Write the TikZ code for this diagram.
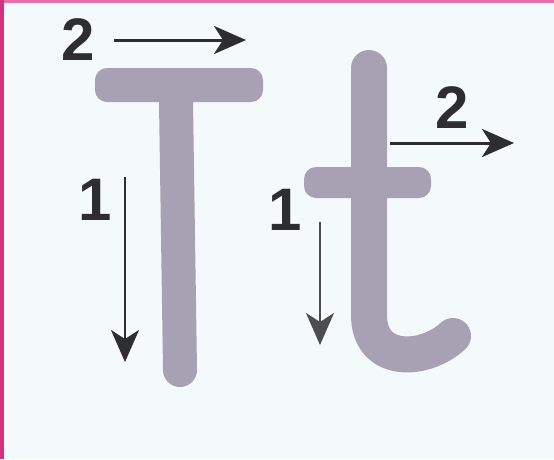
\documentclass[tikz,border=0pt]{standalone}
\usepackage{fontspec}
\setmainfont{Liberation Sans}
\usetikzlibrary{arrows.meta}
\definecolor{bgc}{HTML}{F4F9FB}
\definecolor{pinkA}{HTML}{D6307F}
\definecolor{pinkB}{HTML}{E870A8}
\definecolor{strokec}{HTML}{A8A1B3}
\definecolor{inkc}{HTML}{2E2E32}
\tikzset{
  digit/.style={inner sep=0pt, text=inkc, font=\bfseries\fontsize{60}{60}\selectfont},
  letterstroke/.style={draw=strokec, line cap=round, line join=round},
  barshape/.style={fill=strokec, rounded corners=12pt},
  dirarrow/.style={draw=inkc, line width=3pt, -{Stealth[length=32pt,width=28pt,inset=9pt]}},
}
\begin{document}
\begin{tikzpicture}[x=1pt,y=-1pt]
\useasboundingbox (0,0) rectangle (554,459);
\fill[bgc] (0,0) rectangle (554,459);
\fill[pinkB] (0,0) rectangle (554,2.5);
\fill[pinkA] (0,0) rectangle (3.5,459);
% letter T
\fill[barshape] (95,68) rectangle (263,102);
\draw[letterstroke, line width=34pt] (176,102) -- (180,370);
% letter t
\draw[letterstroke, line width=36pt] (369,68) -- (369,315) .. controls (369,365) and (425,362) .. (453,336);
\fill[barshape] (304,167) rectangle (431,198);
% digits
\node[digit] (n2a) at (78.5,39.5) {2};
\node[digit] (n2b) at (452,108) {2};
\node[digit] (n1a) at (95,200) {1};
\node[digit] (n1b) at (285,210) {1};
% arrows
\coordinate (a2s) at (114,40);
\coordinate (a2e) at (246,40);
\coordinate (b2s) at (390,143);
\coordinate (b2e) at (514,143);
\coordinate (a1s) at (125,177);
\coordinate (a1e) at (125,362);
\coordinate (b1s) at (320,222);
\coordinate (b1e) at (320,345);
\draw[dirarrow] (a2s) -- (a2e);
\draw[dirarrow] (b2s) -- (b2e);
\draw[dirarrow, line width=2.2pt] (a1s) -- (a1e);
\draw[dirarrow, draw=inkc!85, line width=1.5pt] (b1s) -- (b1e);
\end{tikzpicture}
\end{document}
